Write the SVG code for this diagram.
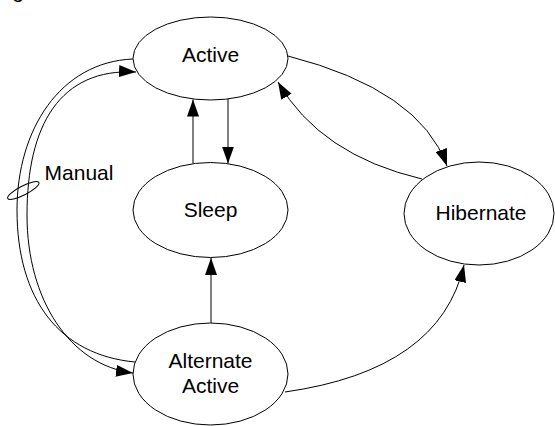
<svg xmlns="http://www.w3.org/2000/svg" width="555" height="426" viewBox="0 0 555 426">
<defs>
<style>
.node ellipse{fill:#fff;stroke:#000;stroke-width:1}
.lbl{font-family:"Liberation Sans",Arial,sans-serif;font-size:21px;fill:#000;text-anchor:middle}
.conn path,.conn line{fill:none;stroke:#000;stroke-width:1}
.arr{marker-end:url(#ah)}
</style>
<marker id="ah" markerUnits="userSpaceOnUse" markerWidth="18" markerHeight="12" refX="17" refY="6" orient="auto-start-reverse" viewBox="0 0 18 12">
<path d="M0,0 L17,6 L0,12 z" fill="#000"/>
</marker>
</defs>
<rect width="555" height="426" fill="#fff"/>
<text class="lbl" x="18" y="-2.5">g</text>
<g id="connectors" class="conn">
<path d="M133,59 C60,62 17,130 17,210 C17,300 60,355 135,362"/>
<path d="M136,72 C60,68 27,125 27,215 C27,300 70,365 133,373" marker-start="url(#ah)" marker-end="url(#ah)"/>
<line class="arr" x1="228" y1="99" x2="228" y2="163.5"/>
<line class="arr" x1="193" y1="163.5" x2="193" y2="99.5"/>
<line class="arr" x1="211" y1="323" x2="211" y2="258"/>
<path class="arr" d="M288,56 Q420,90 447,166"/>
<path class="arr" d="M422,179 Q320,155 278,82"/>
<path class="arr" d="M285,392 Q440,370 464,265"/>
</g>
<g id="manual">
<ellipse cx="23.3" cy="190.5" rx="17.5" ry="4.5" transform="rotate(-27 23.3 190.5)" fill="none" stroke="#000" stroke-width="1"/>
<text class="lbl" x="79" y="180">Manual</text>
</g>
<g id="active" class="node">
<ellipse cx="210.5" cy="58.5" rx="77.5" ry="41.5"/>
<text class="lbl" x="210.5" y="61.7">Active</text>
</g>
<g id="sleep" class="node">
<ellipse cx="210.5" cy="210" rx="77.5" ry="47.5"/>
<text class="lbl" x="210.5" y="217">Sleep</text>
</g>
<g id="hibernate" class="node">
<ellipse cx="479" cy="213.5" rx="75" ry="51.5"/>
<text class="lbl" x="481" y="220">Hibernate</text>
</g>
<g id="alternate-active" class="node">
<ellipse cx="210.5" cy="374" rx="77.5" ry="51"/>
<text class="lbl" x="210.5" y="368.3">Alternate</text>
<text class="lbl" x="210.5" y="393.3">Active</text>
</g>
</svg>
